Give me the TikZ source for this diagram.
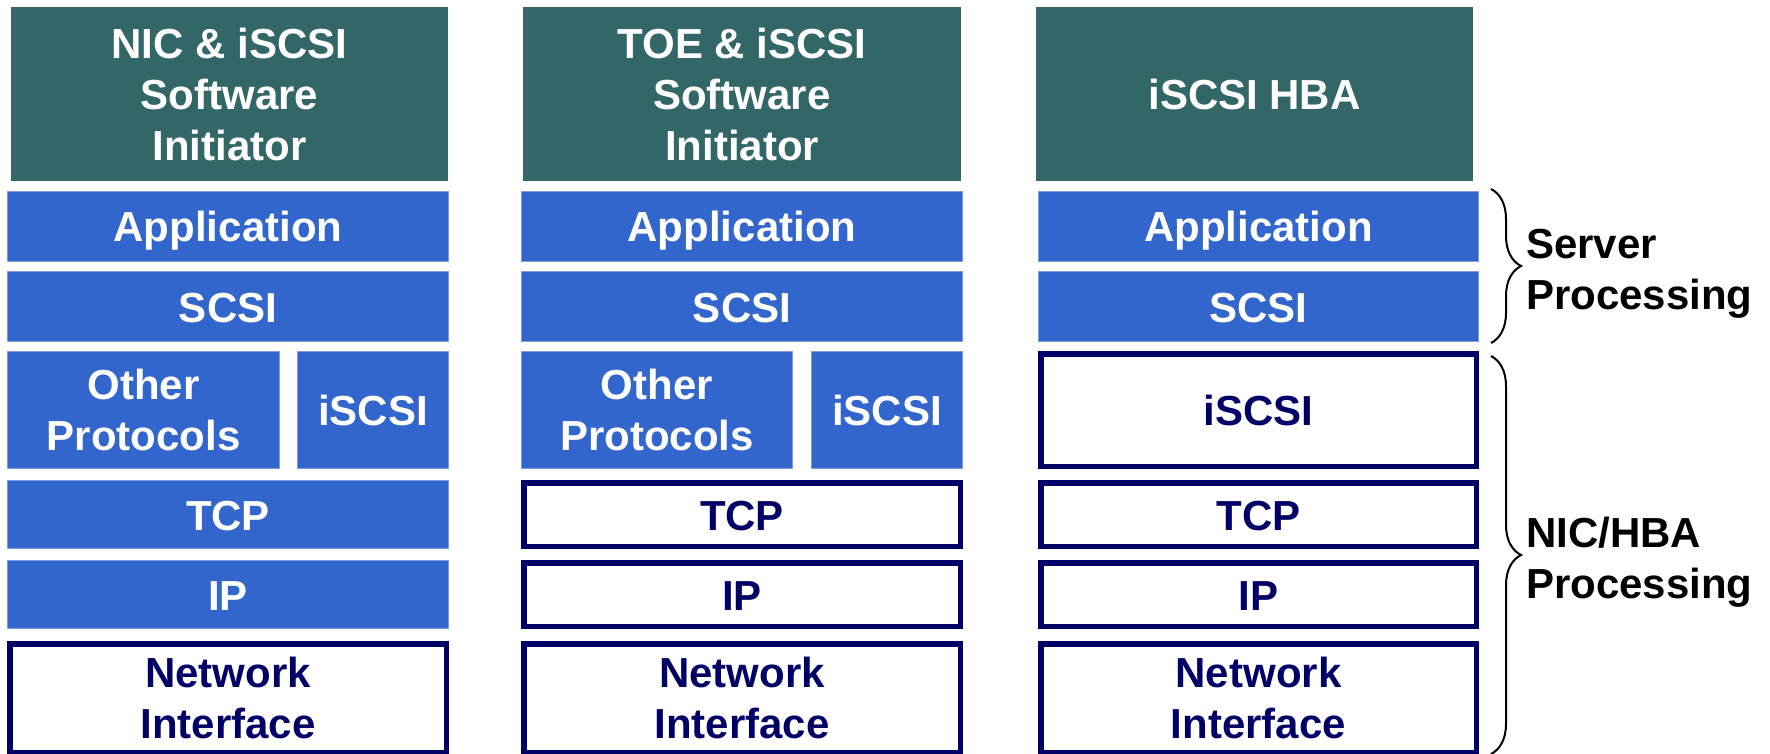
\documentclass[tikz,border=0pt]{standalone}
\usepackage{fontspec}
\setmainfont{Liberation Sans}
\usetikzlibrary{decorations.pathreplacing}
\definecolor{hdrteal}{RGB}{51,102,102}
\definecolor{layblue}{RGB}{51,102,204}
\definecolor{layedge}{RGB}{125,155,225}
\definecolor{navy}{RGB}{0,0,102}
\tikzset{
  lbl/.style={font=\fontsize{42}{51}\selectfont\bfseries, align=center, inner sep=0pt},
  oneline/.style={text height=31pt, text depth=0pt},
  hdr/.style={lbl, fill=hdrteal, text=white},
  bluebox/.style={lbl, fill=layblue, draw=layedge, line width=1pt, text=white},
  outbox/.style={lbl, fill=white, draw=navy, line width=5.5pt, text=navy},
  sidelbl/.style={font=\fontsize{42}{51}\selectfont\bfseries, align=left, inner sep=0pt, anchor=west, text=black},
  bracedeco/.style={decorate, decoration={brace, amplitude=30pt}, line width=2pt, black}
}
\begin{document}
\begin{tikzpicture}[x=1pt,y=-1pt]
\useasboundingbox (0,0) rectangle (1770,754);
% headers
\node[hdr, minimum width=437pt, minimum height=174pt] (h1) at (229.5,94) {NIC \& iSCSI\\Software\\Initiator};
\node[hdr, minimum width=438pt, minimum height=174pt] (h2) at (742,94) {TOE \& iSCSI\\Software\\Initiator};
\node[hdr, oneline, minimum width=437pt, minimum height=174pt] (h3) at (1254.5,94) {iSCSI HBA};
% column 1
\node[bluebox, oneline, minimum width=441pt, minimum height=70pt] (a1) at (228,226.5) {Application};
\node[bluebox, oneline, minimum width=441pt, minimum height=70pt] (s1) at (228,306.5) {SCSI};
\node[bluebox, minimum width=272pt, minimum height=117pt] (o1) at (143.5,410) {Other\\Protocols};
\node[bluebox, oneline, minimum width=151pt, minimum height=117pt] (i1) at (373,410) {iSCSI};
\node[bluebox, oneline, minimum width=441pt, minimum height=68pt] (t1) at (228,514.5) {TCP};
\node[bluebox, oneline, minimum width=441pt, minimum height=68pt] (p1) at (228,594.5) {IP};
\node[outbox, minimum width=436.5pt, minimum height=108.5pt] (n1) at (228,698) {Network\\Interface};
% column 2
\node[bluebox, oneline, minimum width=441pt, minimum height=70pt] (a2) at (742,226.5) {Application};
\node[bluebox, oneline, minimum width=441pt, minimum height=70pt] (s2) at (742,306.5) {SCSI};
\node[bluebox, minimum width=271pt, minimum height=117pt] (o2) at (657,410) {Other\\Protocols};
\node[bluebox, oneline, minimum width=151pt, minimum height=117pt] (i2) at (887,410) {iSCSI};
\node[outbox, oneline, minimum width=436.5pt, minimum height=63.5pt] (t2) at (742,514.5) {TCP};
\node[outbox, oneline, minimum width=436.5pt, minimum height=63.5pt] (p2) at (742,594.5) {IP};
\node[outbox, minimum width=436.5pt, minimum height=108.5pt] (n2) at (742,698) {Network\\Interface};
% column 3
\node[bluebox, oneline, minimum width=440pt, minimum height=70pt] (a3) at (1258.5,226.5) {Application};
\node[bluebox, oneline, minimum width=440pt, minimum height=70pt] (s3) at (1258.5,306.5) {SCSI};
\node[outbox, oneline, minimum width=435.5pt, minimum height=112.5pt] (i3) at (1258.5,410) {iSCSI};
\node[outbox, oneline, minimum width=435.5pt, minimum height=63.5pt] (t3) at (1258.5,514.5) {TCP};
\node[outbox, oneline, minimum width=435.5pt, minimum height=63.5pt] (p3) at (1258.5,594.5) {IP};
\node[outbox, minimum width=435.5pt, minimum height=108.5pt] (n3) at (1258.5,698) {Network\\Interface};
% braces
\coordinate (b1t) at (1491,189);
\coordinate (b1b) at (1491,343);
\coordinate (b2t) at (1491,356);
\coordinate (b2b) at (1491,754);
\draw[bracedeco] (b1t) -- (b1b);
\draw[bracedeco] (b2t) -- (b2b);
\node[sidelbl] (sp) at (1526,274) {Server\\Processing};
\node[sidelbl] (np) at (1526,562) {NIC/HBA\\Processing};
\end{tikzpicture}
\end{document}
